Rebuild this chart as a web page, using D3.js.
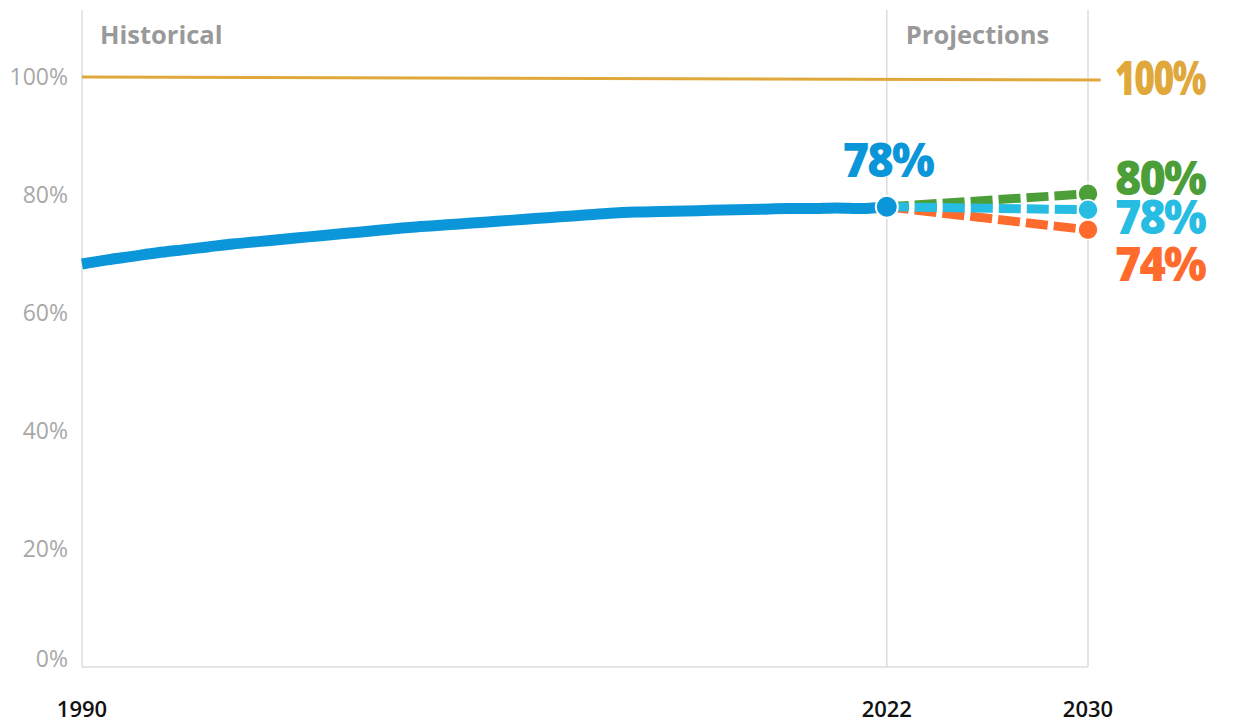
<!DOCTYPE html>
<html>
<head>
<meta charset="utf-8">
<script src="https://cdn.jsdelivr.net/npm/d3@7"></script>
<style>
  body { margin: 0; background: #fff; }
  text { font-family: "Open Sans", "Noto Sans", sans-serif; }
</style>
</head>
<body>
<div class="chart"></div>
<script>
const years = d3.range(1990, 2023);
const historical = [68.3, 69.0, 69.6, 70.2, 70.7, 71.2, 71.7, 72.1, 72.5, 72.9,
                    73.3, 73.7, 74.1, 74.5, 74.8, 75.1, 75.4, 75.7, 76.0, 76.3,
                    76.6, 76.9, 77.1, 77.2, 77.3, 77.4, 77.5, 77.6, 77.7, 77.7,
                    77.8, 77.7, 78.0];
const targetYears = [1990, 2030.5];
const targetValues = [100, 99.5];
const projYears = [2022, 2030];
const projHigh = [78.0, 80.2];
const projMid = [78.0, 77.5];
const projLow = [78.0, 74.1];
const yTicks = [0, 20, 40, 60, 80, 100];
const xTicks = [1990, 2022, 2030];

(() => {
    const width = 1246,
          height = 724;
    const margin = { top: 10, left: 82, right: 158, bottom: 57 };

    const svg = d3.select('.chart')
        .append('svg')
        .attr('width', width)
        .attr('height', height);

    const x = d3.scaleLinear()
        .domain([1990, 2030])
        .range([margin.left, width - margin.right]);

    // 100% sits at y = 77, 0% at y = 667
    const y = d3.scaleLinear()
        .domain([0, 100])
        .range([height - margin.bottom, 77]);

    const grid = '#dcdcdc';

    // frame lines
    svg.append('line')
        .attr('x1', x(1990)).attr('x2', x(1990))
        .attr('y1', margin.top).attr('y2', y(0))
        .attr('stroke', grid).attr('stroke-width', 1.5);
    svg.append('line')
        .attr('x1', x(1990)).attr('x2', x(2030))
        .attr('y1', y(0)).attr('y2', y(0))
        .attr('stroke', grid).attr('stroke-width', 1.5);
    [2022, 2030].forEach(yr => {
        svg.append('line')
            .attr('x1', x(yr)).attr('x2', x(yr))
            .attr('y1', margin.top).attr('y2', y(0))
            .attr('stroke', grid).attr('stroke-width', 1.5);
    });

    // y axis labels
    svg.append('g')
        .selectAll('text')
        .data(yTicks)
        .enter().append('text')
        .attr('x', 68)
        .attr('y', d => d === 0 ? y(d) - 8 : y(d))
        .attr('dy', '0.35em')
        .attr('text-anchor', 'end')
        .attr('font-size', 23)
        .attr('font-weight', 400)
        .attr('fill', '#a8a8a8')
        .text(d => d + '%');

    // x axis labels
    svg.append('g')
        .selectAll('text')
        .data(xTicks)
        .enter().append('text')
        .attr('x', d => x(d))
        .attr('y', 717)
        .attr('text-anchor', 'middle')
        .attr('font-size', 22)
        .attr('font-weight', 600)
        .attr('fill', '#111')
        .text(d => d);

    // section titles
    svg.append('text')
        .attr('x', x(1990) + 18).attr('y', 44)
        .attr('font-size', 25.5).attr('font-weight', 700)
        .attr('fill', '#999')
        .text('Historical');
    svg.append('text')
        .attr('x', x(2022) + 19).attr('y', 44)
        .attr('font-size', 25.5).attr('font-weight', 700)
        .attr('fill', '#999')
        .text('Projections');

    const line = d3.line()
        .x(d => x(d[0]))
        .y(d => y(d[1]))
        .curve(d3.curveMonotoneX);

    // target line
    svg.append('path')
        .attr('d', line(d3.zip(targetYears, targetValues)))
        .attr('fill', 'none')
        .attr('stroke', '#e0a83a')
        .attr('stroke-width', 3);

    // historical line
    svg.append('path')
        .attr('d', line(d3.zip(years, historical)))
        .attr('fill', 'none')
        .attr('stroke', '#0a96d8')
        .attr('stroke-width', 11);

    // projections
    const projections = [
        { values: projLow, color: '#ff6b2c', label: '74%' },
        { values: projHigh, color: '#4c9f38', label: '80%' },
        { values: projMid, color: '#27bde3', label: '78%' }
    ];

    projections.forEach(p => {
        const pts = d3.zip(projYears, p.values);
        svg.append('path')
            .attr('d', line(pts))
            .attr('fill', 'none')
            .attr('stroke', p.color)
            .attr('stroke-width', 9)
            .attr('stroke-dasharray', '22,6');
    });

    projections.forEach(p => {
        svg.append('circle')
            .attr('cx', x(2030))
            .attr('cy', y(p.values[1]))
            .attr('r', 10)
            .attr('fill', p.color)
            .attr('stroke', '#fff')
            .attr('stroke-width', 1.5);
    });

    svg.append('circle')
        .attr('cx', x(2022))
        .attr('cy', y(historical[historical.length - 1]))
        .attr('r', 11)
        .attr('fill', '#0a96d8')
        .attr('stroke', '#fff')
        .attr('stroke-width', 2);

    // big value labels
    const big = (tx, ty, txt, color, anchor) => {
        svg.append('text')
            .attr('x', tx).attr('y', ty)
            .attr('text-anchor', anchor || 'start')
            .attr('font-size', 48)
            .attr('font-weight', 800)
            .attr('letter-spacing', -2)
            .attr('textLength', 90)
            .attr('lengthAdjust', 'spacingAndGlyphs')
            .attr('fill', color)
            .text(txt);
    };

    big(x(2022) - 44, 177, historical[historical.length - 1].toFixed(0) + '%', '#0a96d8');
    big(1115, 95, targetValues[0] + '%', '#e0a83a');
    big(1115, 195, Math.round(projHigh[1]) + '%', '#4c9f38');
    big(1115, 234, Math.round(projMid[1]) + '%', '#27bde3');
    big(1115, 281, Math.round(projLow[1]) + '%', '#ff6b2c');
})();
</script>
</body>
</html>
